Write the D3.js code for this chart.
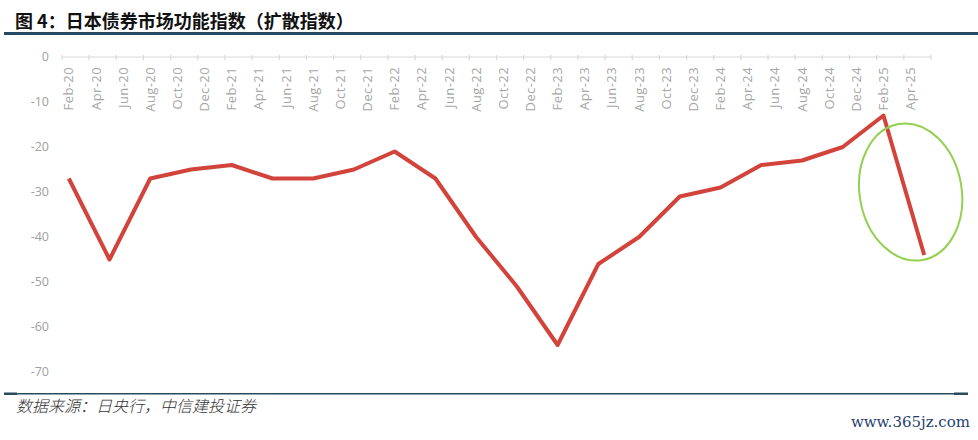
<!DOCTYPE html>
<html>
<head>
<meta charset="utf-8">
<script src="https://cdn.jsdelivr.net/npm/d3@7"></script>
<style>
  body { margin: 0; background: #fff; }
  svg { display: block; }
</style>
</head>
<body>
<div class="container"></div>
<script>
// monthly categories on the x axis
const months = [
  "Feb-20","Mar-20","Apr-20","May-20","Jun-20","Jul-20","Aug-20","Sep-20","Oct-20","Nov-20","Dec-20",
  "Jan-21","Feb-21","Mar-21","Apr-21","May-21","Jun-21","Jul-21","Aug-21","Sep-21","Oct-21","Nov-21","Dec-21",
  "Jan-22","Feb-22","Mar-22","Apr-22","May-22","Jun-22","Jul-22","Aug-22","Sep-22","Oct-22","Nov-22","Dec-22",
  "Jan-23","Feb-23","Mar-23","Apr-23","May-23","Jun-23","Jul-23","Aug-23","Sep-23","Oct-23","Nov-23","Dec-23",
  "Jan-24","Feb-24","Mar-24","Apr-24","May-24","Jun-24","Jul-24","Aug-24","Sep-24","Oct-24","Nov-24","Dec-24",
  "Jan-25","Feb-25","Mar-25","Apr-25","May-25"
]
const tickLabels = [
  "Feb-20","Apr-20","Jun-20","Aug-20","Oct-20","Dec-20",
  "Feb-21","Apr-21","Jun-21","Aug-21","Oct-21","Dec-21",
  "Feb-22","Apr-22","Jun-22","Aug-22","Oct-22","Dec-22",
  "Feb-23","Apr-23","Jun-23","Aug-23","Oct-23","Dec-23",
  "Feb-24","Apr-24","Jun-24","Aug-24","Oct-24","Dec-24",
  "Feb-25","Apr-25"
]
// survey months (quarterly) and the diffusion index
const surveyMonths = [
  "Feb-20","May-20","Aug-20","Nov-20","Feb-21","May-21","Aug-21","Nov-21",
  "Feb-22","May-22","Aug-22","Nov-22","Feb-23","May-23","Aug-23","Nov-23",
  "Feb-24","May-24","Aug-24","Nov-24","Feb-25","May-25"
]
const values = [-27, -45, -27, -25, -24, -27, -27, -25, -21, -27, -40, -51, -64, -46, -40, -31, -29, -24, -23, -20, -13, -44]
const yTicks = [0, -10, -20, -30, -40, -50, -60, -70]

const w = 978
const h = 440
const plotLeft = 62
const plotRight = 931
const plotTop = 57
const plotBottom = 372

const svg = d3.select(".container")
  .append("svg")
  .attr("width", w)
  .attr("height", h)

const xScale = d3.scaleBand().domain(months).range([plotLeft, plotRight]).padding(0)
const yScale = d3.scaleLinear().domain([-70, 0]).range([plotBottom, plotTop])

// title
svg.append("text")
  .attr("x", 15)
  .attr("y", 28)
  .style("font-family", "'Noto Sans CJK SC', sans-serif")
  .style("font-weight", "bold")
  .style("font-size", "18px")
  .style("fill", "#111")
  .text("图 4：日本债券市场功能指数（扩散指数）")

svg.append("rect")
  .attr("x", 4).attr("y", 32)
  .attr("width", w - 4).attr("height", 3)
  .attr("fill", "#264a62")

// y labels (no axis line)
svg.append("g")
  .selectAll("text")
  .data(yTicks)
  .enter()
  .append("text")
  .attr("x", 49)
  .attr("y", (d) => yScale(d))
  .attr("dy", "0.35em")
  .style("text-anchor", "end")
  .style("font-family", "'Open Sans', sans-serif")
  .style("font-size", "12.5px")
  .style("fill", "#a0a0a0")
  .text((d) => d)

// x axis along the zero line
const axis = svg.append("g").attr("id", "x-axis")

axis.append("line")
  .attr("x1", plotLeft).attr("x2", plotRight)
  .attr("y1", yScale(0)).attr("y2", yScale(0))
  .attr("stroke", "#d9d9d9")
  .attr("stroke-width", 1.2)

const tickPos = tickLabels.map((d) => xScale(d)).concat([plotRight])
axis.selectAll("line.tick")
  .data(tickPos)
  .enter()
  .append("line")
  .attr("class", "tick")
  .attr("x1", (d) => d).attr("x2", (d) => d)
  .attr("y1", yScale(0) - 2).attr("y2", yScale(0) + 3)
  .attr("stroke", "#d9d9d9")
  .attr("stroke-width", 1.2)

axis.selectAll("text")
  .data(tickLabels)
  .enter()
  .append("text")
  .attr("transform", (d) => "translate(" + (xScale(d) + xScale.bandwidth() / 2) + "," + (yScale(0) + 10) + ") rotate(-90)")
  .attr("dy", "0.35em")
  .style("text-anchor", "end")
  .style("font-family", "'Open Sans', sans-serif")
  .style("font-size", "13px")
  .style("letter-spacing", "0.4px")
  .style("fill", "#a6a6a6")
  .text((d) => d)

// line series
const points = surveyMonths.map((m, i) => [xScale(m) + xScale.bandwidth() / 2, yScale(values[i])])
const line = d3.line()

svg.append("path")
  .attr("d", line(points))
  .attr("fill", "none")
  .attr("stroke", "#d2433b")
  .attr("stroke-width", 4)
  .attr("stroke-linejoin", "round")

// highlight ellipse around the latest drop
const cx = xScale("Apr-25") + xScale.bandwidth() / 2
const cy = yScale(-30)
svg.append("ellipse")
  .attr("cx", 0).attr("cy", 0)
  .attr("rx", 51).attr("ry", 69)
  .attr("transform", "translate(" + cx + "," + cy + ") rotate(-10)")
  .attr("fill", "none")
  .attr("stroke", "#92d050")
  .attr("stroke-width", 2)

// bottom rule
svg.append("rect")
  .attr("x", 4).attr("y", 393)
  .attr("width", 964).attr("height", 1.5)
  .attr("fill", "#2b4a5c")
svg.append("rect")
  .attr("x", 4).attr("y", 392.5)
  .attr("width", 13).attr("height", 2.5)
  .attr("fill", "#2b4a5c")
svg.append("rect")
  .attr("x", 954).attr("y", 392.5)
  .attr("width", 14).attr("height", 2.5)
  .attr("fill", "#2b4a5c")

// source
svg.append("text")
  .attr("x", 16)
  .attr("y", 412)
  .style("font-family", "'Noto Sans CJK SC', sans-serif")
  .style("font-style", "italic")
  .style("font-weight", "300")
  .style("font-size", "16px")
  .style("fill", "#333")
  .text("数据来源：日央行，中信建投证券")

svg.append("text")
  .attr("x", 970)
  .attr("y", 427)
  .style("text-anchor", "end")
  .style("font-family", "'DejaVu Serif', serif")
  .style("font-size", "15px")
  .style("fill", "#1f3f6f")
  .text("www.365jz.com")
</script>
</body>
</html>
